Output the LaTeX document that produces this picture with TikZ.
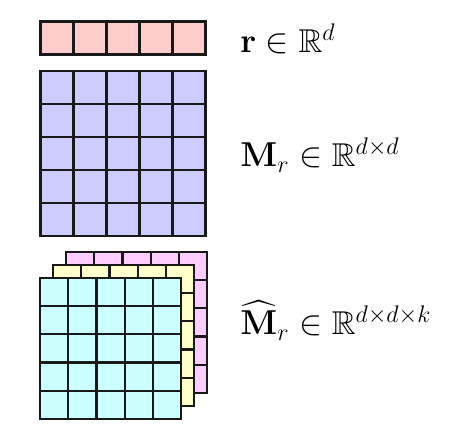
\documentclass[tikz,border=0pt]{standalone}
\usepackage{amsmath,amssymb}
\usetikzlibrary{positioning}

\definecolor{vecred}{HTML}{FFCCCC}
\definecolor{matblue}{HTML}{CCCCFF}
\definecolor{slicecyan}{HTML}{CCFFFF}
\definecolor{sliceyellow}{HTML}{FFFFCC}
\definecolor{slicepink}{HTML}{FFCCFF}

\tikzset{
  cell/.style={draw=black!90, line width=1.1pt},
  dimlabel/.style={anchor=base west, inner sep=0pt, font=\fontsize{16.5}{20}\selectfont},
}

\begin{document}
\begin{tikzpicture}[x=0.5pt, y=-0.5pt]
  \useasboundingbox (0,0) rectangle (466,431);

  % relation vector r, 1 x 5
  \foreach \i in {0,...,4}
    \draw[cell, fill=vecred] (40.5+\i*33, 21.5) rectangle +(33,33);

  % matrix M_r, 5 x 5
  \foreach \i in {0,...,4}
    \foreach \j in {0,...,4}
      \draw[cell, fill=matblue] (40.5+\i*33, 71+\j*33) rectangle +(33,33);

  % tensor, k slices (back to front)
  \foreach \c/\ox/\oy in {slicepink/66/252, sliceyellow/53/265, slicecyan/40/278}
    \foreach \i in {0,...,4}
      \foreach \j in {0,...,4}
        \draw[cell, fill=\c] (\ox+\i*28.2, \oy+\j*28.2) rectangle +(28.2,28.2);

  % labels
  \node[dimlabel] (rlabel) at (240,53) {$\mathbf{r} \in \mathbb{R}^{d}$};
  \node[dimlabel] (mlabel) at (240,167) {$\mathbf{M}_r \in \mathbb{R}^{d\times d}$};
  \node[dimlabel] (tlabel) at (240,335) {$\widehat{\mathbf{M}}_r \in \mathbb{R}^{d\times d\times k}$};
\end{tikzpicture}
\end{document}
